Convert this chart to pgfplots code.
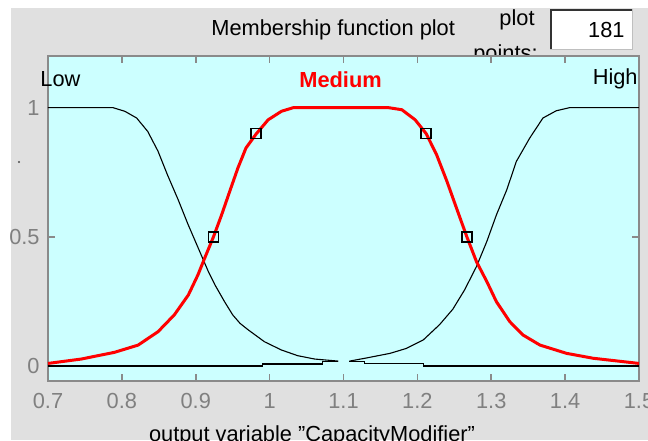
\documentclass[border=0pt]{standalone}
\usepackage{fontspec}
\setmainfont{Liberation Sans}
\usepackage{pgfplots}
\pgfplotsset{compat=1.18}

\definecolor{panelgray}{HTML}{E0E0E0}
\definecolor{plotcyan}{HTML}{CCFFFF}
\definecolor{axisgray}{HTML}{8A8A8A}
\definecolor{labelgray}{HTML}{808080}

\begin{document}
\begin{tikzpicture}
\fontsize{10.9}{13}\selectfont
\useasboundingbox (0,0) rectangle (324pt,220pt);
\fill[white] (0,0) rectangle (324pt,220pt);
\fill[panelgray] (5.5pt,0) rectangle (324pt,216pt);

% header texts and the plot points box
\node[anchor=base west, inner sep=0pt] at (105.5pt,202pt) {Membership function plot};
\node[anchor=base east, inner sep=0pt] at (267.5pt,207pt) {plot};
\node[anchor=base east, inner sep=0pt] at (269pt,189.5pt) {points:};
\fill[white] (275pt,195pt) rectangle (316.5pt,215.5pt);
\draw[black!80, line width=1pt] (275.5pt,195pt) -- (275.5pt,215pt) -- (316.5pt,215pt);
\draw[black!25, line width=0.5pt] (275pt,195.25pt) -- (316.25pt,195.25pt) -- (316.25pt,215.5pt);
\node[anchor=base east, inner sep=0pt] at (312.5pt,201pt) {181};
\fill[black!70] (9.5pt,139pt) circle (0.6pt);

\begin{axis}[
    at={(24pt,29.5pt)}, anchor=south west,
    scale only axis,
    width=295.5pt, height=162.5pt,
    xmin=0.7, xmax=1.5,
    ymin=-0.058, ymax=1.2,
    xtick={0.7,0.8,0.9,1,1.1,1.2,1.3,1.4,1.5},
    xticklabels={0.7,0.8,0.9,1,1.1,1.2,1.3,1.4,1.5},
    ytick={0,0.5,1},
    yticklabels={0,0.5,1},
    tick align=inside,
    major tick length=3.5pt,
    tick style={color=axisgray, line width=0.8pt},
    axis line style={color=axisgray, line width=1pt},
    axis background/.style={fill=plotcyan},
    ticklabel style={color=labelgray, font=\fontsize{10.9}{13}\selectfont},
    /pgf/number format/assume math mode=true,
    xticklabel style={inner sep=0pt, yshift=-6pt},
    yticklabel style={inner sep=0pt, xshift=-4pt},
    clip mode=individual,
]
% Low
\addplot[black, line width=0.55pt] coordinates {
    (0.700,1.000) (0.788,1.000) (0.804,0.986) (0.820,0.960) (0.835,0.908)
    (0.849,0.831) (0.862,0.738) (0.876,0.645) (0.889,0.552) (0.903,0.459)
    (0.917,0.366) (0.926,0.314) (0.939,0.249) (0.950,0.198) (0.960,0.165)
    (0.971,0.140) (0.993,0.094) (1.016,0.062) (1.038,0.040) (1.061,0.027)
    (1.093,0.019)
};
\addplot[black, line width=0.55pt] coordinates {
    (1.108,0.017) (1.129,0.017) (1.129,0.009) (1.208,0.009) (1.208,0) (1.500,0)
};
% High
\addplot[black, line width=0.55pt] coordinates {
    (0.700,0) (0.990,0) (0.990,0.008) (1.071,0.008) (1.071,0.017) (1.093,0.017)
};
\addplot[black, line width=0.55pt] coordinates {
    (1.108,0.019) (1.129,0.030) (1.163,0.049) (1.185,0.068) (1.208,0.101)
    (1.230,0.160) (1.248,0.220) (1.264,0.295) (1.280,0.385) (1.294,0.482)
    (1.307,0.585) (1.321,0.682) (1.334,0.792) (1.352,0.882) (1.370,0.960)
    (1.388,0.988) (1.406,1.000) (1.500,1.000)
};
% Medium
\addplot[red, line width=1.5pt] coordinates {
    (0.700,0.010) (0.745,0.027) (0.790,0.053) (0.822,0.081) (0.849,0.133)
    (0.871,0.198) (0.890,0.275) (0.903,0.353) (0.912,0.417) (0.924,0.500)
    (0.935,0.585) (0.946,0.676) (0.957,0.766) (0.968,0.844) (0.982,0.899)
    (0.998,0.953) (1.016,0.986) (1.032,1.000) (1.161,1.000) (1.179,0.992)
    (1.197,0.953) (1.212,0.899) (1.226,0.818) (1.240,0.715) (1.253,0.611)
    (1.267,0.500) (1.280,0.404) (1.294,0.327) (1.307,0.249) (1.325,0.172)
    (1.343,0.120) (1.366,0.081) (1.402,0.049) (1.438,0.030) (1.500,0.010)
};
\addplot[only marks, mark=square, mark size=2.5pt, mark options={black, line width=0.9pt}] coordinates {
    (0.924,0.5) (0.982,0.9) (1.212,0.9) (1.267,0.5)
};
\node[anchor=west, inner sep=0pt, xshift=-4pt] at (axis cs:0.7,1.11) {Low};
\node[anchor=east, inner sep=0pt, xshift=-0.5pt] at (axis cs:1.5,1.11) {High};
\node[inner sep=0pt, text=red, font=\bfseries] at (axis cs:1.096,1.11) {Medium};
\end{axis}

\node[anchor=north, inner sep=0pt] at (156pt,7.5pt) {output variable \symbol{34}CapacityModifier\symbol{34}};
\end{tikzpicture}
\end{document}
